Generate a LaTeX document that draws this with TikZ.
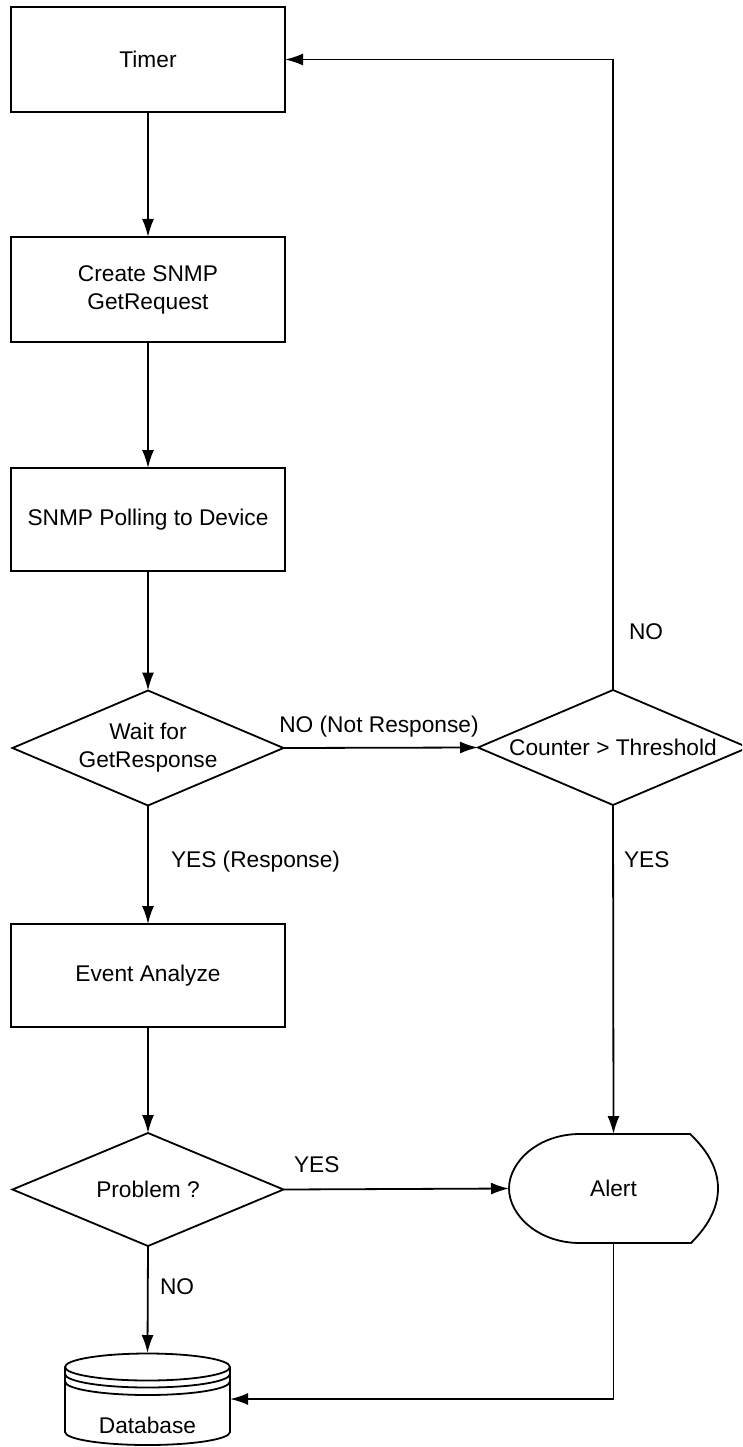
\documentclass[tikz,border=0pt]{standalone}
\usepackage{fontspec}
\setmainfont{Liberation Sans}
\usetikzlibrary{arrows.meta,calc}
\begin{document}
\begin{tikzpicture}[x=1pt,y=-1pt,
  line width=1.8pt,
  every node/.style={font=\fontsize{22.7}{28}\selectfont, text=black, inner sep=0pt, outer sep=0pt},
  procbox/.style={draw, minimum width=274pt, minimum height=105pt, align=center},
  diabox/.style={minimum width=271pt, minimum height=115pt, align=center},
  lbl/.style={anchor=west},
  arr/.style={-{Latex[length=18pt,width=12pt]}},
]
\clip (0,0) rectangle (742,1447);
\fill[white] (0,0) rectangle (742,1447);

% process boxes
\node[procbox] (timer)  at (148,59.5)  {Timer};
\node[procbox] (create) at (148,289.5) {Create SNMP\\GetRequest};
\node[procbox, minimum height=103pt] (poll) at (148,519.5) {SNMP Polling to Device};
\node[procbox, minimum height=103pt] (event) at (148,975.5) {Event Analyze};

% decisions
\node[diabox] (wait)    at (148,748)    {Wait for\\GetResponse};
\node[diabox, minimum width=270pt] (counter) at (613,747.5) {Counter > Threshold};
\node[diabox, minimum height=113pt] (prob) at (148,1189.5) {Problem ?};
\foreach \n in {wait,counter,prob}
  \draw (\n.north) -- (\n.east) -- (\n.south) -- (\n.west) -- cycle;

% alert (display shape)
\node[minimum width=209pt, minimum height=109pt] (alert) at (613.5,1188.5) {Alert};
\draw (580,1134) -- (690,1134)
  .. controls (707,1150) and (718,1168) .. (718,1188.5)
  .. controls (718,1209) and (707,1227) .. (691,1243)
  -- (580,1243)
  .. controls (538,1243) and (509,1215) .. (509,1188.5)
  .. controls (509,1162) and (538,1134) .. (580,1134) -- cycle;

% database (cylinder)
\node[minimum width=165pt, minimum height=92pt] (db) at (147.5,1399) {};
\node (dbtext) at (147.5,1425) {Database};
\draw (65,1367) -- (65,1432)
  arc[start angle=180, end angle=0, x radius=82.5, y radius=13] -- (230,1367);
\draw (147.5,1367) ellipse[x radius=82.5, y radius=13.5];
\draw (65,1374) arc[start angle=180, end angle=0, x radius=82.5, y radius=13.5];
\draw (65,1381.5) arc[start angle=180, end angle=0, x radius=82.5, y radius=13.5];

% connectors
\draw[arr] (timer.south) -- (create.north);
\draw[arr] (create.south) -- (poll.north);
\draw[arr] (poll.south) -- (wait.north);
\draw[arr] (wait.south) -- (event.north);
\draw[arr] (wait.east) -- (counter.west);
\draw[arr] (counter.north) |- (timer.east);
\draw[arr] (counter.south) -- (alert.north);
\draw[arr] (event.south) -- (prob.north);
\draw[arr] (prob.east) -- (alert.west);
\draw[arr] (prob.south) -- (db.north);
\draw[arr] (alert.south) |- (db.east);

% labels
\node (lnr)   at (379,727) {NO (Not Response)};
\node[lbl] (lyr)   at (171,862)  {YES (Response)};
\node[lbl] (lno1)  at (629,632)  {NO};
\node[lbl] (lyes1) at (624,860)  {YES};
\node[lbl] (lyes2) at (294,1165) {YES};
\node[lbl] (lno2)  at (160,1287) {NO};
\end{tikzpicture}
\end{document}
